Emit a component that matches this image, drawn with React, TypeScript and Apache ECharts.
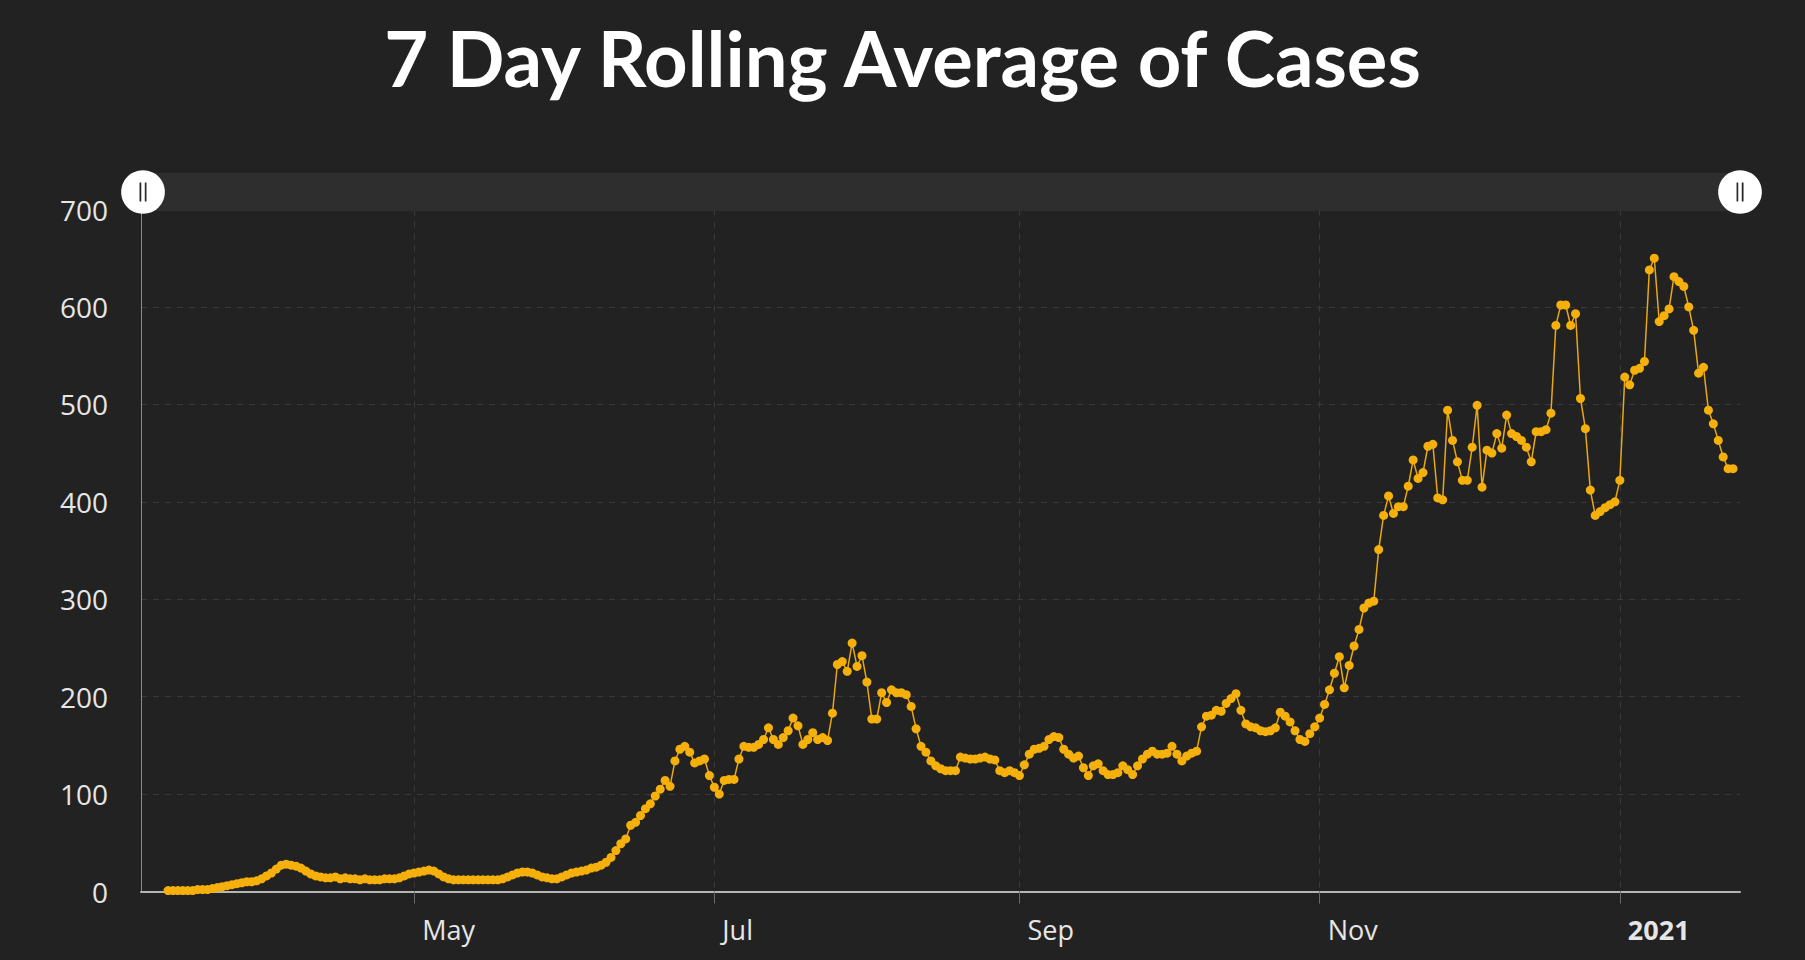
import React, { useEffect, useRef } from "react";
import * as echarts from "echarts";

// ---------- data (7-day rolling average, one value per day from 12 Mar 2020) ----------
const firstDay = { year: 2020, month: 2, day: 12 };

const marchCases = [1, 1, 1, 1, 1, 1, 2, 2, 2, 3, 4, 5, 6, 7, 8, 9, 10, 10, 11, 13];
const aprilCases = [16, 19, 23, 27, 28, 27, 26, 24, 21, 18, 16, 15, 14, 14, 15, 13, 14, 13, 13, 12, 13, 12, 12, 12, 13, 13, 13, 14, 16, 18];
const mayCases = [19, 20, 21, 22, 21, 18, 15, 13, 12, 12, 12, 12, 12, 12, 12, 12, 12, 12, 13, 15, 17, 19, 20, 20, 19, 17, 15, 14, 13, 13, 15];
const juneCases = [17, 19, 20, 21, 22, 24, 25, 27, 30, 35, 42, 49, 54, 68, 71, 78, 85, 90, 98, 105, 114, 108, 134, 146, 149, 143, 132, 134, 136, 119];
const julyCases = [107, 100, 114, 115, 115, 136, 149, 148, 148, 151, 156, 168, 156, 151, 158, 165, 178, 170, 151, 156, 163, 156, 158, 155, 183, 233, 236, 226, 255, 231, 242];
const augustCases = [215, 177, 177, 204, 194, 207, 204, 204, 202, 190, 167, 149, 143, 134, 129, 126, 124, 124, 124, 138, 137, 136, 136, 137, 138, 136, 135, 124, 122, 124, 122];
const septemberCases = [119, 130, 141, 146, 147, 149, 156, 159, 158, 146, 141, 137, 139, 127, 119, 129, 131, 124, 120, 120, 122, 129, 125, 120, 129, 136, 141, 144, 141, 141];
const octoberCases = [142, 149, 141, 134, 139, 142, 144, 169, 180, 181, 186, 185, 193, 198, 203, 186, 172, 169, 168, 165, 164, 165, 168, 184, 180, 174, 165, 156, 154, 162, 169];
const novemberCases = [178, 192, 207, 224, 241, 209, 232, 252, 269, 291, 296, 298, 351, 386, 406, 388, 395, 395, 416, 443, 424, 430, 457, 459, 404, 402, 494, 463, 441, 422];
const decemberCases = [422, 456, 499, 415, 453, 450, 470, 455, 489, 470, 467, 463, 456, 441, 472, 472, 474, 491, 581, 602, 602, 581, 593, 506, 475, 412, 386, 390, 394, 397, 400];
const januaryCases = [422, 528, 520, 535, 537, 544, 638, 650, 585, 591, 598, 631, 626, 621, 600, 576, 532, 538, 494, 480, 463, 446, 434, 434];

const monthNames = ["Jan", "Feb", "Mar", "Apr", "May", "Jun", "Jul", "Aug", "Sep", "Oct", "Nov", "Dec"];
const yAxisMin = 0;
const yAxisMax = 700;
const yAxisStep = 100;
const chartTitle = "7 Day Rolling Average of Cases";

const allCases = [
  ...marchCases, ...aprilCases, ...mayCases, ...juneCases, ...julyCases, ...augustCases,
  ...septemberCases, ...octoberCases, ...novemberCases, ...decemberCases, ...januaryCases,
];

const DAY = 24 * 3600 * 1000;

export default function App() {
  const ref = useRef<HTMLDivElement>(null);

  useEffect(() => {
    if (!ref.current) return;
    const chart = echarts.init(ref.current, null, { renderer: "svg" });

    const seriesData = allCases.map((v, i) => [
      new Date(firstDay.year, firstDay.month, firstDay.day + i).getTime(),
      v,
    ]);

    const xMin = new Date(2020, 2, 6, 12).getTime();
    const xMax = new Date(2021, 0, 25, 10).getTime();

    const labelColor = "#e6e6e6";
    const fontFamily = "'Open Sans', 'Noto Sans', sans-serif";

    chart.setOption({
      animation: false,
      backgroundColor: "#222222",
      title: {
        text: chartTitle,
        left: "center",
        top: 14,
        textStyle: {
          color: "#ffffff",
          fontSize: 76,
          fontWeight: "bold",
          fontFamily: "Lato, sans-serif",
        },
      },
      grid: { left: 141, right: 65, top: 209.5, bottom: 68.5, containLabel: false },
      xAxis: {
        type: "time",
        min: xMin,
        max: xMax,
        minInterval: 61 * DAY,
        maxInterval: 62 * DAY,
        axisLine: { show: true, lineStyle: { color: "#b5b5b5", width: 2 } },
        axisTick: { show: true, length: 12, lineStyle: { color: "#6a6a6a", width: 1 } },
        splitLine: {
          show: true,
          showMinLine: false,
          showMaxLine: false,
          lineStyle: { color: "#3a3a3a", type: [6, 6], width: 1 },
        },
        axisLabel: {
          color: labelColor,
          fontSize: 27,
          fontFamily,
          align: "left",
          padding: [0, 0, 0, 8],
          margin: 24,
          hideOverlap: false,
          formatter: (value: number) => {
            const d = new Date(value);
            if (d.getMonth() === 0) return "{yr|" + d.getFullYear() + "}";
            return monthNames[d.getMonth()];
          },
          rich: {
            yr: { fontWeight: "bold", fontSize: 27, color: labelColor, fontFamily },
          },
        },
      },
      yAxis: {
        type: "value",
        min: yAxisMin,
        max: yAxisMax,
        interval: yAxisStep,
        axisLine: { show: true, lineStyle: { color: "#8a8a8a", width: 1 } },
        axisTick: { show: false },
        splitLine: { show: true, lineStyle: { color: "#3a3a3a", type: [6, 6], width: 1 } },
        axisLabel: { color: labelColor, fontSize: 28, fontFamily, margin: 33 },
      },
      dataZoom: [
        {
          type: "slider",
          xAxisIndex: 0,
          start: 0,
          end: 100,
          top: 173,
          height: 38,
          left: 141,
          right: 65,
          backgroundColor: "#2e2e2e",
          fillerColor: "#2e2e2e",
          borderColor: "transparent",
          showDataShadow: false,
          showDetail: false,
          brushSelect: false,
          moveHandleSize: 0,
          handleIcon:
            "path://M50,0 A50,50 0 1,1 49.9,0 Z M42,28 L42,72 L46,72 L46,28 Z M54,28 L54,72 L58,72 L58,28 Z",
          handleSize: "115%",
          handleStyle: { color: "#ffffff", borderColor: "#ffffff", borderWidth: 0 },
          emphasis: { handleStyle: { color: "#ffffff", borderColor: "#ffffff", borderWidth: 0 } },
          dataBackground: { lineStyle: { opacity: 0 }, areaStyle: { opacity: 0 } },
          selectedDataBackground: { lineStyle: { opacity: 0 }, areaStyle: { opacity: 0 } },
        },
      ],
      series: [
        {
          name: "Cases",
          type: "line",
          data: seriesData,
          symbol: "circle",
          symbolSize: 9,
          showSymbol: true,
          showAllSymbol: true,
          itemStyle: { color: "#f5b00c" },
          lineStyle: { color: "#e9a812", width: 1.5 },
          emphasis: { disabled: true },
        },
      ],
    });

    return () => chart.dispose();
  }, []);

  return (
    <div
      ref={ref}
      style={{ position: "fixed", left: 0, top: 0, width: 1805, height: 960, background: "#222222" }}
    />
  );
}
